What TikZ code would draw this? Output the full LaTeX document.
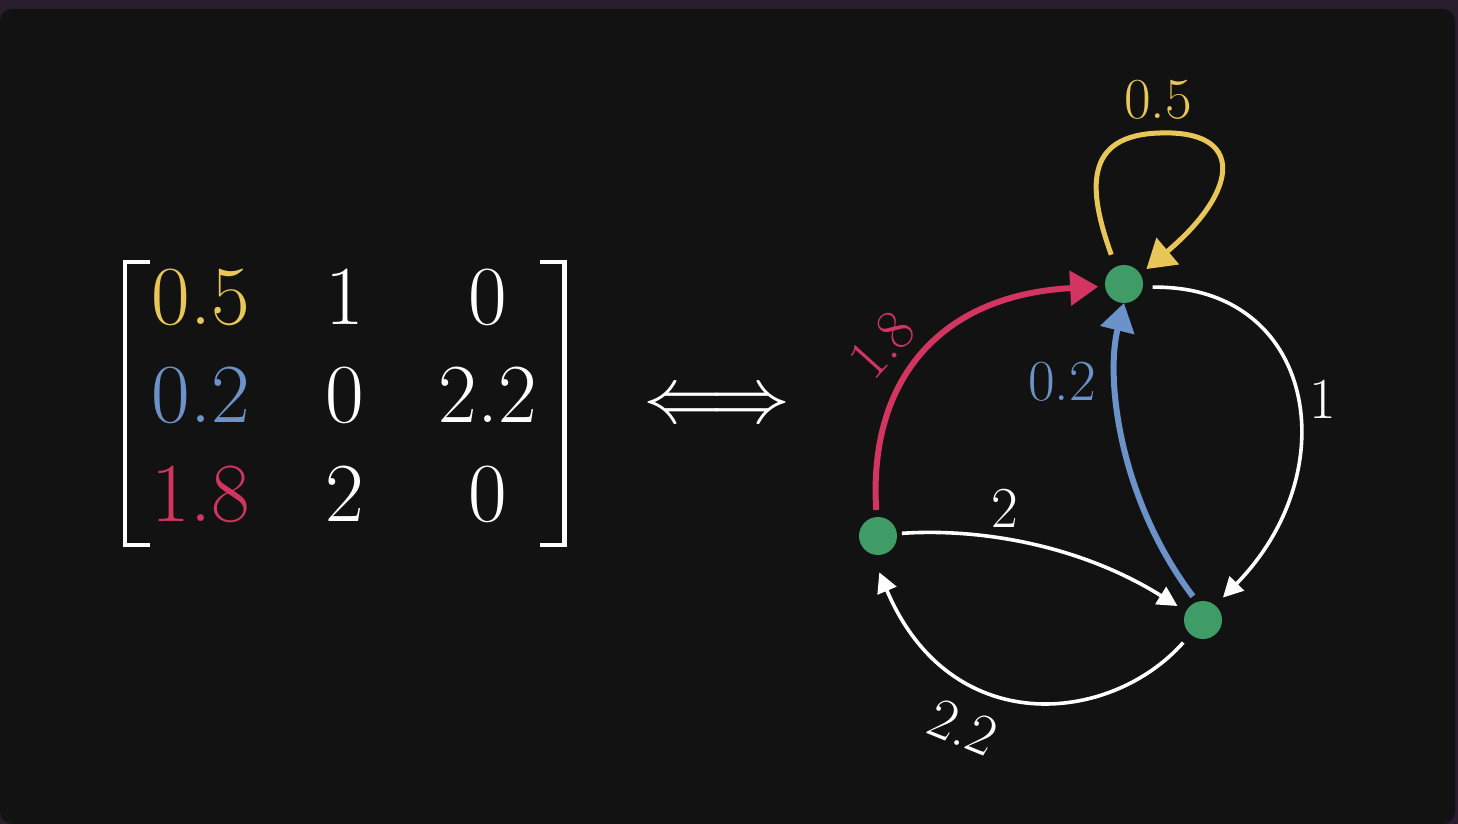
\documentclass[tikz,border=0pt]{standalone}
\usepackage{fontspec}
\usetikzlibrary{arrows.meta}
\definecolor{bgpanel}{HTML}{121212}
\definecolor{topstrip}{HTML}{281C2D}
\definecolor{myyellow}{HTML}{E8C658}
\definecolor{myblue}{HTML}{6B93C9}
\definecolor{myred}{HTML}{D23560}
\definecolor{mygreen}{HTML}{3F9C66}
\begin{document}
\begin{tikzpicture}[x=0.5pt,y=-0.5pt,
  vertex/.style={circle,fill=mygreen,minimum size=19pt,inner sep=0pt,outer sep=0pt},
  entry/.style={text=white,font=\fontsize{42}{50}\selectfont,inner sep=0pt,anchor=base},
  elabel/.style={text=white,font=\fontsize{29}{35}\selectfont,inner sep=0pt},
  bracketline/.style={white,line width=2.3pt},
  bigedge/.style={line width=3pt,-{Triangle[length=14pt,width=17pt]}},
  whiteedge/.style={white,line width=1.8pt,-{Triangle[length=10pt,width=10pt]}}]
\useasboundingbox (0,0) rectangle (1458,824);
\fill[topstrip] (0,0) rectangle (1458,824);
\fill[bgpanel,rounded corners=6pt] (0,9) rectangle (1455,824);

% matrix
\draw[bracketline] (150,262) -- (125,262) -- (125,545) -- (150,545);
\draw[bracketline] (540,262) -- (564.5,262) -- (564.5,545) -- (540,545);
\node[entry,text=myyellow] (m11) at (201,324) {0.5};
\node[entry] (m12) at (345,324) {1};
\node[entry] (m13) at (488,324) {0};
\node[entry,text=myblue] (m21) at (201,422) {0.2};
\node[entry] (m22) at (345,422) {0};
\node[entry] (m23) at (488,422) {2.2};
\node[entry,text=myred] (m31) at (201,521) {1.8};
\node[entry] (m32) at (345,521) {2};
\node[entry] (m33) at (488,521) {0};

\node[entry,font=\fontsize{10}{12}\selectfont] (iff) at (717,422) {\scalebox{4.0}{$\Longleftrightarrow$}};

% graph
\node[vertex] (A) at (1124,284) {};
\node[vertex] (B) at (878,536) {};
\node[vertex] (C) at (1203,620) {};

\draw[bigedge,myyellow,line width=2.5pt,shorten <=6.5pt,shorten >=4pt]
  (A.116) .. controls (1088,190) and (1083,135) .. (1160,133)
  .. controls (1245,130) and (1240,190) .. (A.31);
\draw[bigedge,myred,shorten <=3.5pt,shorten >=3.5pt]
  (B.94) .. controls (868,380) and (940,295) .. (A.187);
\draw[bigedge,myblue,shorten <=3.5pt]
  (C.108) .. controls (1120,500) and (1105,380) .. (A.270);
\draw[whiteedge,shorten <=5pt,shorten >=5.5pt]
  (A.-10) .. controls (1315,285) and (1348,470) .. (C.50);
\draw[whiteedge,shorten <=2.5pt,shorten >=5pt]
  (B.7) .. controls (980,528) and (1080,545) .. (C.153);
\draw[whiteedge,shorten <=5.5pt,shorten >=10pt]
  (C.229) .. controls (1110,725) and (950,740) .. (B.250);

\node[elabel,text=myyellow] (l05) at (1158,100) {0.5};
\node[elabel,text=myred,rotate=48] (l18) at (882,345) {1.8};
\node[elabel,text=myblue] (l02) at (1062,382) {0.2};
\node[elabel] (l1) at (1323,399) {1};
\node[elabel] (l2) at (1005,508) {2};
\node[elabel,rotate=-22] (l22) at (963,727) {2.2};
\end{tikzpicture}
\end{document}
